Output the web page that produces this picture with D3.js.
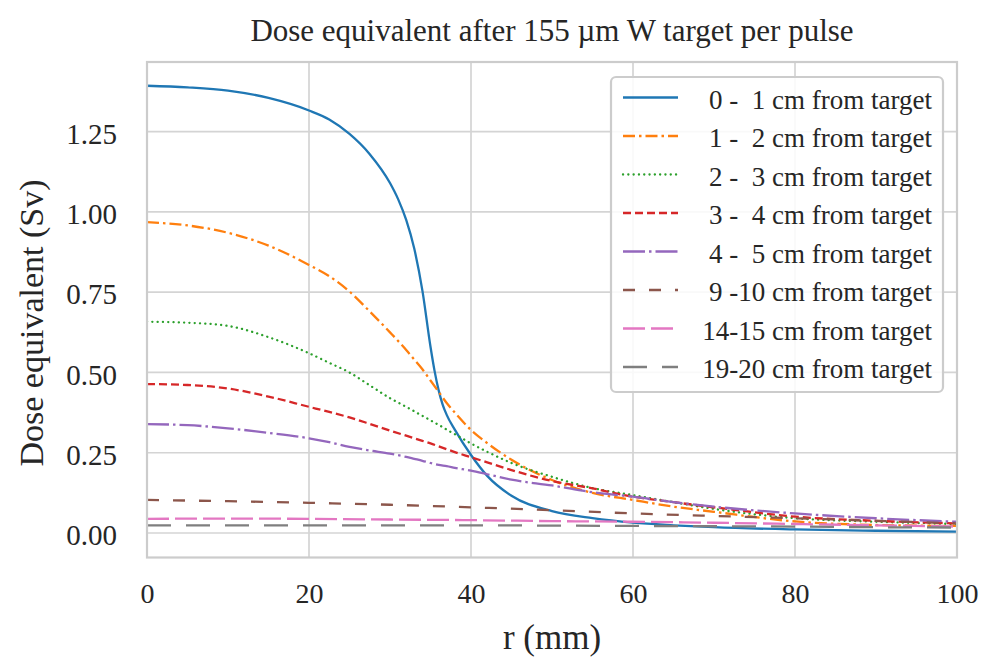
<!DOCTYPE html>
<html>
<head>
<meta charset="utf-8">
<script src="https://cdn.jsdelivr.net/npm/d3@7"></script>
<style>
  body { margin: 0; background: #fff; }
  svg { display: block; }
  text { font-family: "Liberation Serif", "Times New Roman", serif; fill: #262626; }
</style>
</head>
<body>
<svg width="982" height="657"></svg>
<script>
// radial positions (mm)
var rBlue = [0, 5, 10, 15, 20, 22.5, 25, 27.5, 30, 31, 32, 33, 34, 35, 35.5, 36, 36.5, 37, 38, 40, 42, 45, 50, 55, 60, 65, 70, 80, 90, 100];
var rFine = [0, 5, 10, 15, 20, 22.5, 25, 27.5, 30, 32, 33, 34, 35, 36, 37, 38, 40, 42, 45, 50, 55, 60, 65, 70, 80, 90, 100];
var rCoarse = [0, 10, 20, 30, 40, 50, 60, 70, 80, 90, 100];

// dose equivalent (Sv) per layer
var dose0_1 = [1.393, 1.388, 1.378, 1.355, 1.316, 1.288, 1.243, 1.18, 1.09, 1.04, 0.975, 0.885, 0.755, 0.58, 0.505, 0.445, 0.40, 0.368, 0.322, 0.243, 0.178, 0.116, 0.068, 0.046, 0.032, 0.024, 0.018, 0.011, 0.007, 0.004];
var dose1_2 = [0.968, 0.958, 0.935, 0.895, 0.835, 0.80, 0.752, 0.69, 0.625, 0.57, 0.54, 0.51, 0.475, 0.44, 0.405, 0.375, 0.321, 0.28, 0.228, 0.165, 0.125, 0.103, 0.082, 0.066, 0.036, 0.025, 0.022];
var dose2_3 = [0.658, 0.655, 0.645, 0.61, 0.56, 0.53, 0.50, 0.46, 0.42, 0.393, 0.379, 0.365, 0.351, 0.337, 0.322, 0.308, 0.279, 0.253, 0.218, 0.175, 0.14, 0.118, 0.096, 0.075, 0.046, 0.035, 0.028];
var dose3_4 = [0.464, 0.461, 0.45, 0.425, 0.393, 0.377, 0.36, 0.34, 0.319, 0.303, 0.295, 0.287, 0.279, 0.27, 0.261, 0.252, 0.236, 0.22, 0.196, 0.162, 0.139, 0.113, 0.096, 0.08, 0.051, 0.038, 0.03];
var dose4_5 = [0.339, 0.336, 0.326, 0.312, 0.295, 0.283, 0.268, 0.257, 0.247, 0.237, 0.231, 0.225, 0.218, 0.212, 0.208, 0.203, 0.194, 0.183, 0.166, 0.148, 0.127, 0.113, 0.096, 0.082, 0.061, 0.046, 0.035];
var dose9_10 = [0.103, 0.099, 0.094, 0.088, 0.080, 0.071, 0.061, 0.053, 0.046, 0.038, 0.030];
var dose14_15 = [0.044, 0.045, 0.044, 0.042, 0.040, 0.037, 0.035, 0.032, 0.028, 0.024, 0.020];
var dose19_20 = [0.024, 0.024, 0.024, 0.024, 0.024, 0.023, 0.022, 0.021, 0.020, 0.018, 0.017];

var labels = ["0 -  1 cm from target", "1 -  2 cm from target", "2 -  3 cm from target", "3 -  4 cm from target",
  "4 -  5 cm from target", "9 -10 cm from target", "14-15 cm from target", "19-20 cm from target"];
var xTicks = [0, 20, 40, 60, 80, 100];
var yTicks = [0, 0.25, 0.5, 0.75, 1.0, 1.25];

var colors = ["#1f77b4", "#ff7f0e", "#2ca02c", "#d62728", "#9467bd", "#8c564b", "#e377c2", "#7f7f7f"];
var dashes = ["none", "12,4,2.5,4", "0.1,5.2", "8,4", "22,4,2.5,4", "12,14", "22,6", "24,15"];

var series = [
  { r: rBlue, v: dose0_1 }, { r: rFine, v: dose1_2 }, { r: rFine, v: dose2_3 },
  { r: rFine, v: dose3_4 }, { r: rFine, v: dose4_5 }, { r: rCoarse, v: dose9_10 },
  { r: rCoarse, v: dose14_15 }, { r: rCoarse, v: dose19_20 }
];

var svg = d3.select("svg");
var pLeft = 147, pRight = 957, pTop = 62, pBottom = 557.5;

var x = d3.scaleLinear().domain([0, 100]).range([pLeft, pRight]);
var y = d3.scaleLinear().domain([-0.0763, 1.467]).range([pBottom, pTop]);

svg.append("defs").append("clipPath").attr("id", "clip")
  .append("rect").attr("x", pLeft).attr("y", pTop).attr("width", pRight - pLeft).attr("height", pBottom - pTop);

// grid
svg.append("g").selectAll("line").data(xTicks).enter().append("line")
  .attr("x1", d => x(d)).attr("x2", d => x(d)).attr("y1", pTop).attr("y2", pBottom)
  .attr("stroke", "#d4d4d4").attr("stroke-width", 1.7);
svg.append("g").selectAll("line").data(yTicks).enter().append("line")
  .attr("x1", pLeft).attr("x2", pRight).attr("y1", d => y(d)).attr("y2", d => y(d))
  .attr("stroke", "#d4d4d4").attr("stroke-width", 1.7);

// axes tick labels
var xAxis = svg.append("g").attr("transform", "translate(0," + pBottom + ")")
  .call(d3.axisBottom(x).tickValues(xTicks).tickSize(0).tickPadding(0).tickFormat(d3.format("d")));
xAxis.select(".domain").remove();
xAxis.selectAll("text").attr("y", 45.5).attr("dy", null).style("font-size", "28px");

var yAxis = svg.append("g").attr("transform", "translate(" + pLeft + ",0)")
  .call(d3.axisLeft(y).tickValues(yTicks).tickSize(0).tickPadding(30).tickFormat(d3.format(".2f")));
yAxis.select(".domain").remove();
yAxis.selectAll("text").attr("dy", "0.4em").style("font-size", "29px");
svg.selectAll(".tick text").style("font-family", "'Liberation Serif', serif").style("fill", "#262626");

// lines
var line = d3.line().curve(d3.curveMonotoneX);
var lines = svg.append("g").attr("clip-path", "url(#clip)");
series.forEach(function (s, i) {
  var pts = s.r.map(function (r, j) { return [x(r), y(s.v[j])]; });
  lines.append("path")
    .attr("d", line(pts))
    .attr("fill", "none")
    .attr("stroke", colors[i])
    .attr("stroke-width", 2.3)
    .attr("stroke-linecap", i === 2 ? "round" : "butt")
    .attr("stroke-dasharray", dashes[i]);
});

// frame
svg.append("rect").attr("x", pLeft).attr("y", pTop).attr("width", pRight - pLeft).attr("height", pBottom - pTop)
  .attr("fill", "none").attr("stroke", "#cccccc").attr("stroke-width", 2.2);

// title and axis labels
svg.append("text").attr("x", (pLeft + pRight) / 2).attr("y", 41).attr("text-anchor", "middle")
  .style("font-size", "31px").text("Dose equivalent after 155 µm W target per pulse");
svg.append("text").attr("x", (pLeft + pRight) / 2).attr("y", 649).attr("text-anchor", "middle")
  .style("font-size", "35px").text("r (mm)");
svg.append("text").attr("transform", "translate(43,323) rotate(-90)").attr("text-anchor", "middle")
  .style("font-size", "34px").text("Dose equivalent (Sv)");

// legend
var leg = svg.append("g");
leg.append("rect").attr("x", 611).attr("y", 77).attr("width", 332).attr("height", 315).attr("rx", 5)
  .attr("fill", "#fff").attr("fill-opacity", 0.85).attr("stroke", "#cccccc").attr("stroke-width", 2.2);
labels.forEach(function (lab, i) {
  var ly = 97.5 + i * 38.5;
  leg.append("line").attr("x1", 623).attr("x2", 678).attr("y1", ly).attr("y2", ly)
    .attr("stroke", colors[i]).attr("stroke-width", 2.3)
    .attr("stroke-linecap", i === 2 ? "round" : "butt")
    .attr("stroke-dasharray", dashes[i]);
  leg.append("text").attr("x", 932).attr("y", ly + 11).attr("text-anchor", "end")
    .style("font-size", "27px").style("white-space", "pre").text(lab);
});
</script>
</body>
</html>
